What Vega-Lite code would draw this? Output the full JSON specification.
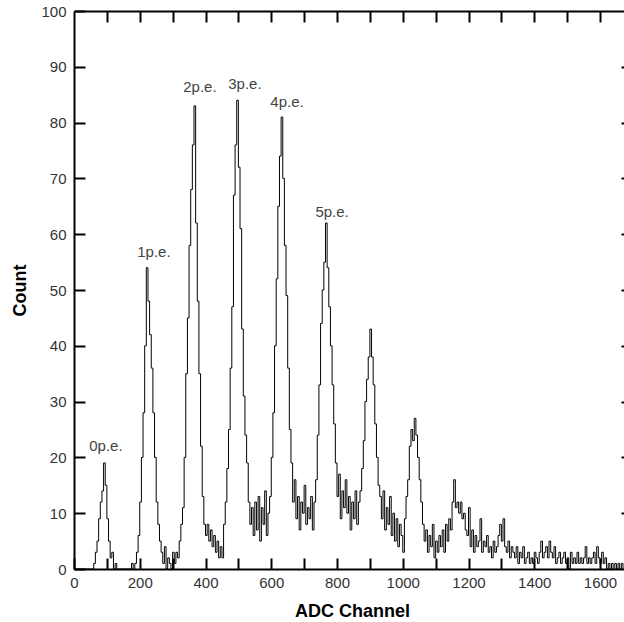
{
  "$schema": "https://vega.github.io/schema/vega-lite/v6.json",
  "autosize": {"type": "none"},
  "padding": {"left": 74, "top": 11, "right": 0, "bottom": 53},
  "width": 550,
  "height": 558,
  "background": "white",
  "config": {"view": {"stroke": null}},
  "datasets": {
    "hist": [
      {"ch":0,"n":0},{"ch":5,"n":0},{"ch":10,"n":0},{"ch":15,"n":0},{"ch":20,"n":0},{"ch":25,"n":0},{"ch":30,"n":0},{"ch":35,"n":0},{"ch":40,"n":0},{"ch":45,"n":0},{"ch":50,"n":0},
      {"ch":55,"n":0},{"ch":60,"n":1},{"ch":65,"n":3},{"ch":70,"n":5},{"ch":75,"n":9},{"ch":80,"n":12},{"ch":85,"n":14},{"ch":90,"n":19},{"ch":95,"n":15},{"ch":100,"n":9},
      {"ch":105,"n":5},{"ch":110,"n":2},{"ch":115,"n":3},{"ch":120,"n":0},{"ch":125,"n":1},{"ch":130,"n":0},{"ch":135,"n":0},{"ch":140,"n":0},{"ch":145,"n":0},{"ch":150,"n":0},
      {"ch":155,"n":0},{"ch":160,"n":0},{"ch":165,"n":0},{"ch":170,"n":0},{"ch":175,"n":1},{"ch":180,"n":0},{"ch":185,"n":1},{"ch":190,"n":3},{"ch":195,"n":6},{"ch":200,"n":12},
      {"ch":205,"n":20},{"ch":210,"n":28},{"ch":215,"n":40},{"ch":220,"n":54},{"ch":225,"n":48},{"ch":230,"n":42},{"ch":235,"n":36},{"ch":240,"n":28},{"ch":245,"n":20},{"ch":250,"n":12},
      {"ch":255,"n":8},{"ch":260,"n":5},{"ch":265,"n":3},{"ch":270,"n":1},{"ch":275,"n":4},{"ch":280,"n":0},{"ch":285,"n":2},{"ch":290,"n":1},{"ch":295,"n":0},{"ch":300,"n":3},
      {"ch":305,"n":1},{"ch":310,"n":3},{"ch":315,"n":2},{"ch":320,"n":5},{"ch":325,"n":8},{"ch":330,"n":11},{"ch":335,"n":20},{"ch":340,"n":35},{"ch":345,"n":45},{"ch":350,"n":58},
      {"ch":355,"n":68},{"ch":360,"n":76},{"ch":365,"n":83},{"ch":370,"n":62},{"ch":375,"n":48},{"ch":380,"n":35},{"ch":385,"n":22},{"ch":390,"n":13},{"ch":395,"n":8},{"ch":400,"n":6},
      {"ch":405,"n":8},{"ch":410,"n":5},{"ch":415,"n":7},{"ch":420,"n":4},{"ch":425,"n":6},{"ch":430,"n":3},{"ch":435,"n":5},{"ch":440,"n":2},{"ch":445,"n":4},{"ch":450,"n":2},
      {"ch":455,"n":8},{"ch":460,"n":12},{"ch":465,"n":18},{"ch":470,"n":25},{"ch":475,"n":36},{"ch":480,"n":47},{"ch":485,"n":67},{"ch":490,"n":76},{"ch":495,"n":84},{"ch":500,"n":72},
      {"ch":505,"n":61},{"ch":510,"n":43},{"ch":515,"n":31},{"ch":520,"n":24},{"ch":525,"n":19},{"ch":530,"n":12},{"ch":535,"n":8},{"ch":540,"n":11},{"ch":545,"n":6},{"ch":550,"n":12},
      {"ch":555,"n":7},{"ch":560,"n":13},{"ch":565,"n":5},{"ch":570,"n":11},{"ch":575,"n":8},{"ch":580,"n":14},{"ch":585,"n":6},{"ch":590,"n":10},{"ch":595,"n":13},{"ch":600,"n":20},
      {"ch":605,"n":28},{"ch":610,"n":40},{"ch":615,"n":52},{"ch":620,"n":65},{"ch":625,"n":74},{"ch":630,"n":81},{"ch":635,"n":70},{"ch":640,"n":58},{"ch":645,"n":49},{"ch":650,"n":36},
      {"ch":655,"n":25},{"ch":660,"n":19},{"ch":665,"n":12},{"ch":670,"n":16},{"ch":675,"n":9},{"ch":680,"n":13},{"ch":685,"n":7},{"ch":690,"n":12},{"ch":695,"n":10},{"ch":700,"n":15},
      {"ch":705,"n":8},{"ch":710,"n":11},{"ch":715,"n":9},{"ch":720,"n":13},{"ch":725,"n":7},{"ch":730,"n":12},{"ch":735,"n":16},{"ch":740,"n":24},{"ch":745,"n":33},{"ch":750,"n":44},
      {"ch":755,"n":50},{"ch":760,"n":55},{"ch":765,"n":62},{"ch":770,"n":54},{"ch":775,"n":47},{"ch":780,"n":40},{"ch":785,"n":33},{"ch":790,"n":26},{"ch":795,"n":19},{"ch":800,"n":13},
      {"ch":805,"n":17},{"ch":810,"n":9},{"ch":815,"n":14},{"ch":820,"n":11},{"ch":825,"n":16},{"ch":830,"n":10},{"ch":835,"n":13},{"ch":840,"n":7},{"ch":845,"n":12},{"ch":850,"n":9},
      {"ch":855,"n":14},{"ch":860,"n":8},{"ch":865,"n":12},{"ch":870,"n":14},{"ch":875,"n":18},{"ch":880,"n":23},{"ch":885,"n":30},{"ch":890,"n":34},{"ch":895,"n":38},{"ch":900,"n":43},
      {"ch":905,"n":38},{"ch":910,"n":33},{"ch":915,"n":26},{"ch":920,"n":20},{"ch":925,"n":15},{"ch":930,"n":13},{"ch":935,"n":9},{"ch":940,"n":14},{"ch":945,"n":7},{"ch":950,"n":11},
      {"ch":955,"n":8},{"ch":960,"n":13},{"ch":965,"n":6},{"ch":970,"n":10},{"ch":975,"n":5},{"ch":980,"n":9},{"ch":985,"n":4},{"ch":990,"n":8},{"ch":995,"n":6},{"ch":1000,"n":3},
      {"ch":1005,"n":9},{"ch":1010,"n":13},{"ch":1015,"n":16},{"ch":1020,"n":22},{"ch":1025,"n":25},{"ch":1030,"n":23},{"ch":1035,"n":27},{"ch":1040,"n":24},{"ch":1045,"n":20},{"ch":1050,"n":16},
      {"ch":1055,"n":12},{"ch":1060,"n":8},{"ch":1065,"n":5},{"ch":1070,"n":7},{"ch":1075,"n":3},{"ch":1080,"n":6},{"ch":1085,"n":4},{"ch":1090,"n":8},{"ch":1095,"n":2},{"ch":1100,"n":5},
      {"ch":1105,"n":3},{"ch":1110,"n":6},{"ch":1115,"n":4},{"ch":1120,"n":7},{"ch":1125,"n":3},{"ch":1130,"n":8},{"ch":1135,"n":5},{"ch":1140,"n":9},{"ch":1145,"n":7},{"ch":1150,"n":12},
      {"ch":1155,"n":16},{"ch":1160,"n":11},{"ch":1165,"n":12},{"ch":1170,"n":10},{"ch":1175,"n":12},{"ch":1180,"n":9},{"ch":1185,"n":10},{"ch":1190,"n":7},{"ch":1195,"n":6},{"ch":1200,"n":11},
      {"ch":1205,"n":4},{"ch":1210,"n":7},{"ch":1215,"n":3},{"ch":1220,"n":6},{"ch":1225,"n":4},{"ch":1230,"n":5},{"ch":1235,"n":9},{"ch":1240,"n":3},{"ch":1245,"n":5},{"ch":1250,"n":4},
      {"ch":1255,"n":6},{"ch":1260,"n":3},{"ch":1265,"n":4},{"ch":1270,"n":2},{"ch":1275,"n":5},{"ch":1280,"n":3},{"ch":1285,"n":4},{"ch":1290,"n":6},{"ch":1295,"n":8},{"ch":1300,"n":5},
      {"ch":1305,"n":9},{"ch":1310,"n":4},{"ch":1315,"n":3},{"ch":1320,"n":5},{"ch":1325,"n":2},{"ch":1330,"n":4},{"ch":1335,"n":3},{"ch":1340,"n":2},{"ch":1345,"n":4},{"ch":1350,"n":1},
      {"ch":1355,"n":3},{"ch":1360,"n":2},{"ch":1365,"n":4},{"ch":1370,"n":1},{"ch":1375,"n":2},{"ch":1380,"n":3},{"ch":1385,"n":1},{"ch":1390,"n":2},{"ch":1395,"n":1},{"ch":1400,"n":3},
      {"ch":1405,"n":2},{"ch":1410,"n":1},{"ch":1415,"n":3},{"ch":1420,"n":5},{"ch":1425,"n":2},{"ch":1430,"n":3},{"ch":1435,"n":4},{"ch":1440,"n":2},{"ch":1445,"n":5},{"ch":1450,"n":3},
      {"ch":1455,"n":2},{"ch":1460,"n":4},{"ch":1465,"n":1},{"ch":1470,"n":2},{"ch":1475,"n":3},{"ch":1480,"n":1},{"ch":1485,"n":2},{"ch":1490,"n":3},{"ch":1495,"n":1},{"ch":1500,"n":2},
      {"ch":1505,"n":0},{"ch":1510,"n":3},{"ch":1515,"n":1},{"ch":1520,"n":2},{"ch":1525,"n":1},{"ch":1530,"n":3},{"ch":1535,"n":1},{"ch":1540,"n":2},{"ch":1545,"n":1},{"ch":1550,"n":2},
      {"ch":1555,"n":4},{"ch":1560,"n":1},{"ch":1565,"n":2},{"ch":1570,"n":1},{"ch":1575,"n":2},{"ch":1580,"n":3},{"ch":1585,"n":1},{"ch":1590,"n":4},{"ch":1595,"n":2},{"ch":1600,"n":1},
      {"ch":1605,"n":3},{"ch":1610,"n":1},{"ch":1615,"n":2},{"ch":1620,"n":0},{"ch":1625,"n":1},{"ch":1630,"n":0},{"ch":1635,"n":1},{"ch":1640,"n":0},{"ch":1645,"n":1},{"ch":1650,"n":0},
      {"ch":1655,"n":1},{"ch":1660,"n":0},{"ch":1665,"n":1},{"ch":1670,"n":0}
    ],
    "labels": [
      {"ch":97,"n":22,"label":"0p.e."},
      {"ch":243,"n":56.8,"label":"1p.e."},
      {"ch":383,"n":86.4,"label":"2p.e."},
      {"ch":520,"n":86.9,"label":"3p.e."},
      {"ch":648,"n":83.7,"label":"4p.e."},
      {"ch":785,"n":63.9,"label":"5p.e."}
    ]
  },
  "layer": [
    {
      "data": {"name": "hist"},
      "mark": {"type": "line", "interpolate": "step-after", "color": "black", "strokeWidth": 1},
      "encoding": {
        "x": {
          "field": "ch", "type": "quantitative",
          "scale": {"domain": [0, 1673], "nice": false},
          "axis": {
            "orient": "bottom", "grid": false,
            "values": [0,100,200,300,400,500,600,700,800,900,1000,1100,1200,1300,1400,1500,1600],
            "format": "d",
            "labelExpr": "datum.value % 200 == 0 ? datum.label : ''",
            "labelFlush": false, "labelOverlap": false,
            "tickSize": -11, "tickWidth": 2, "tickColor": "black",
            "domainColor": "black", "domainWidth": 2,
            "labelPadding": 17, "labelFont": "Liberation Sans", "labelFontSize": 15, "labelColor": "#333",
            "title": "ADC Channel", "titleFont": "Liberation Sans", "titleFontSize": 18, "titleFontWeight": "bold", "titleColor": "black",
            "titleX": 278, "titleY": 47, "titleBaseline": "alphabetic", "titleAlign": "center", "titleAnchor": "middle"
          }
        },
        "y": {
          "field": "n", "type": "quantitative",
          "scale": {"domain": [0, 100], "nice": false},
          "axis": {
            "orient": "left", "grid": false,
            "values": [0,10,20,30,40,50,60,70,80,90,100],
            "labelFlush": false, "labelOverlap": false,
            "tickSize": -11, "tickWidth": 2, "tickColor": "black",
            "domainColor": "black", "domainWidth": 2,
            "labelPadding": 19, "labelFont": "Liberation Sans", "labelFontSize": 15, "labelColor": "#333",
            "title": "Count", "titleFont": "Liberation Sans", "titleFontSize": 18, "titleFontWeight": "bold", "titleColor": "black",
            "titleX": -49, "titleY": 279, "titleAngle": -90, "titleBaseline": "alphabetic", "titleAlign": "center", "titleAnchor": "middle"
          }
        }
      }
    },
    {
      "data": {"name": "labels"},
      "mark": {"type": "text", "font": "Liberation Sans", "fontSize": 15, "color": "#444", "align": "center", "baseline": "middle"},
      "encoding": {
        "x": {
          "field": "ch", "type": "quantitative",
          "axis": {
            "orient": "top", "grid": false, "labels": false, "title": null,
            "values": [100,200,300,400,500,600,700,800,900,1000,1100,1200,1300,1400,1500,1600],
            "tickSize": -11, "tickWidth": 2, "tickColor": "black",
            "domainColor": "black", "domainWidth": 2
          }
        },
        "y": {
          "field": "n", "type": "quantitative",
          "axis": {
            "orient": "right", "grid": false, "labels": false, "title": null, "domain": false,
            "values": [10,20,30,40,50,60,70,80,90],
            "tickSize": -3, "tickWidth": 2, "tickColor": "black"
          }
        },
        "text": {"field": "label", "type": "nominal"}
      }
    }
  ],
  "resolve": {"axis": {"x": "independent", "y": "independent"}}
}
